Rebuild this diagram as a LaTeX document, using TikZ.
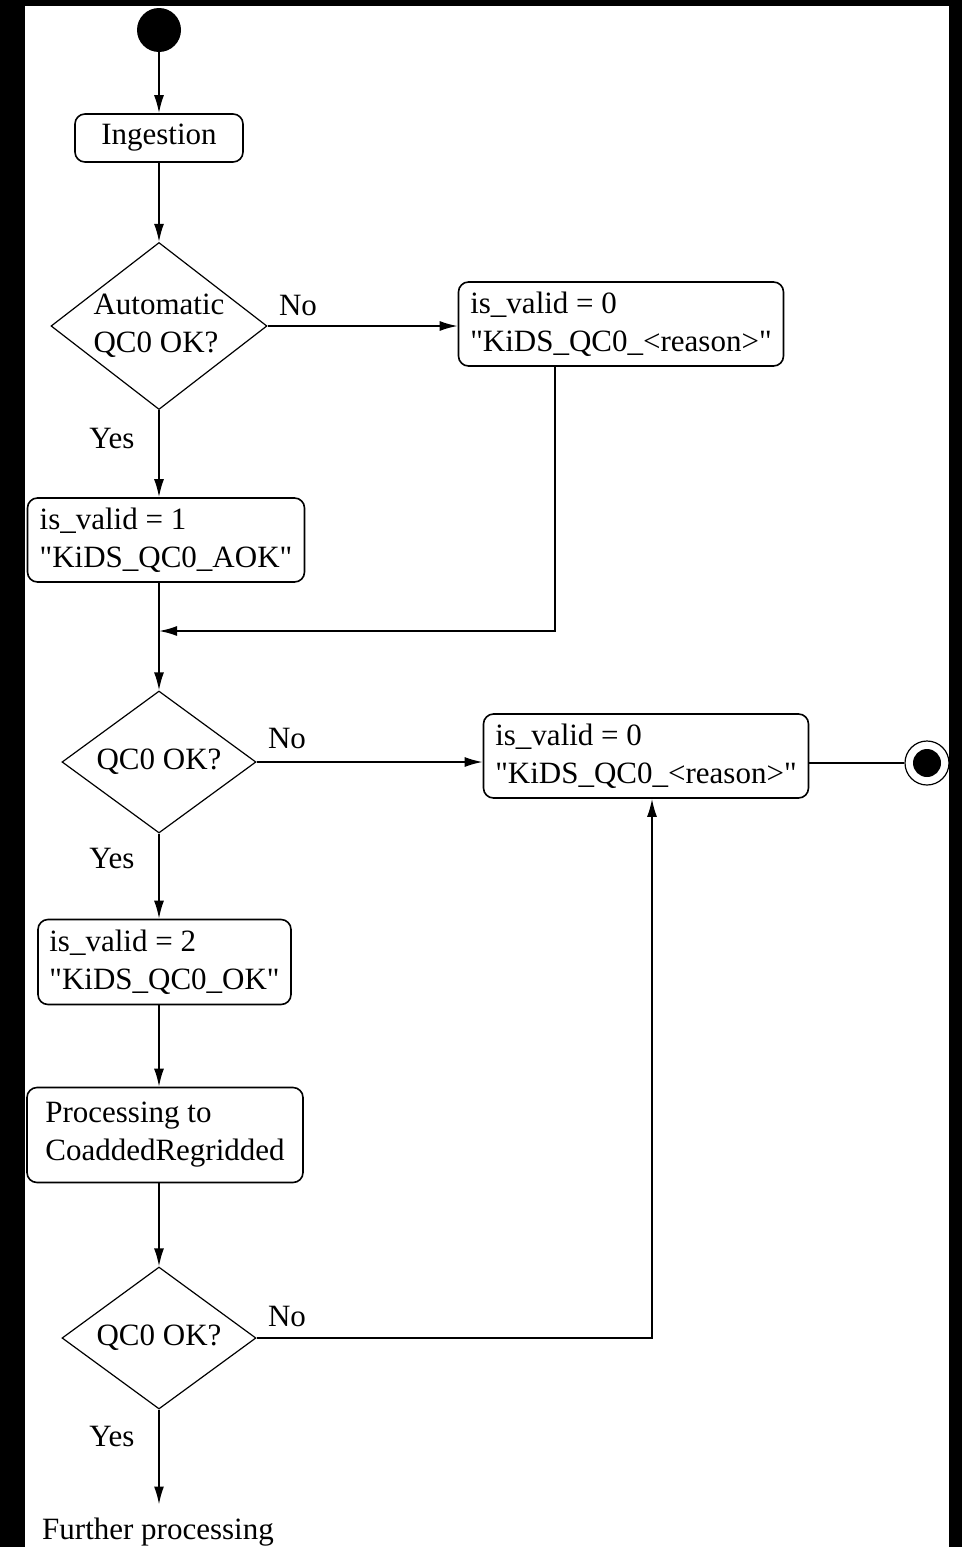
\documentclass[tikz,border=0pt]{standalone}
\usepackage{fontspec}
\setmainfont{Liberation Serif}
\usetikzlibrary{arrows.meta, shapes.geometric}

\begin{document}
\begin{tikzpicture} [x = 0.5pt, y = -0.5pt, font = \fontsize{15.5}{19}\selectfont,
  act/.style = {draw, rounded corners = 5pt, line width = 0.8pt, align = left, inner sep = 0pt},
  dec/.style = {draw, diamond, line width = 0.6pt, align = left, inner sep = 0pt, aspect = 1.3},
  flow/.style = {line width = 0.9pt, -{Latex[length = 9pt, width = 5pt]}}]
\useasboundingbox (0,0) rectangle (962,1547);
\fill[white] (0,0) rectangle (962,1547);
\node[fill, circle, minimum size = 22pt, inner sep = 0pt] (s0) at (159,30) {};
\node[act, minimum width = 84pt, minimum height = 24pt] (a1) at (159,138) {Ingestion};
\node[dec, minimum width = 108pt, minimum height = 83.5pt] (d1) at (159,326) {Automatic\\QC0 OK?};
\node[act, minimum width = 162.5pt, minimum height = 42pt] (r1) at (621,324) {is\_valid = 0\\\textquotedbl KiDS\_QC0\_<reason>\textquotedbl};
\node[act, minimum width = 138.5pt, minimum height = 42pt] (b1) at (166,540) {is\_valid = 1\\\textquotedbl KiDS\_QC0\_AOK\textquotedbl};
\node[dec, minimum width = 97pt, minimum height = 71pt] (d2) at (159,762) {QC0 OK?};
\node[act, minimum width = 162.5pt, minimum height = 42pt] (r2) at (646,756) {is\_valid = 0\\\textquotedbl KiDS\_QC0\_<reason>\textquotedbl};
\node[draw, circle, line width = 0.6pt, minimum size = 22pt, inner sep = 0pt,
  path picture = {\fill (path picture bounding box.center) circle (7pt);}] (f) at (927,763) {};
\node[act, minimum width = 126.5pt, minimum height = 42.5pt] (b2) at (164.5,962) {is\_valid = 2\\\textquotedbl KiDS\_QC0\_OK\textquotedbl};
\node[act, minimum width = 138pt, minimum height = 47.5pt] (b3) at (165,1135) {Processing to\\CoaddedRegridded};
\node[dec, minimum width = 97pt, minimum height = 71pt] (d3) at (159,1338) {QC0 OK?};
\node[inner xsep = 0pt, inner ysep = 6.5pt] (out) at (158,1532) {Further processing};
\node (n1) at (298,305) {No};
\node (y1) at (112,438) {Yes};
\node (n2) at (287,738) {No};
\node (y2) at (112,858) {Yes};
\node (n3) at (287,1316) {No};
\node (y3) at (112,1436) {Yes};
\coordinate (j1) at (159,631);
\coordinate (k1) at (555,631);
\coordinate (k2) at (652,1338);
\draw[flow] (s0) -- (a1);
\draw[flow] (a1) -- (d1);
\draw[flow] (d1.east) -- (d1.east -| r1.west);
\draw[flow] (d1.south) -- (d1.south |- b1.north);
\draw[flow] (r1.south -| k1) |- (j1);
\draw[line width = 0.9pt] (b1.south -| j1) -- (j1);
\draw[flow] (j1) -- (d2);
\draw[flow] (d2.east) -- (d2.east -| r2.west);
\draw[line width = 0.9pt] (f -| r2.east) -- (f);
\draw[flow] (d2.south) -- (d2.south |- b2.north);
\draw[flow] (b2.south -| d2) -- (b3.north -| d2);
\draw[flow] (b3.south -| d3) -- (d3);
\draw[flow] (d3.east) -- (k2) -- (k2 |- r2.south);
\draw[flow] (d3.south) -- (d3.south |- out.north);
\fill (0,0) rectangle (962,6);
\fill (0,0) rectangle (25,1547);
\fill (949,0) rectangle (962,1547);
\end{tikzpicture}
\end{document}
